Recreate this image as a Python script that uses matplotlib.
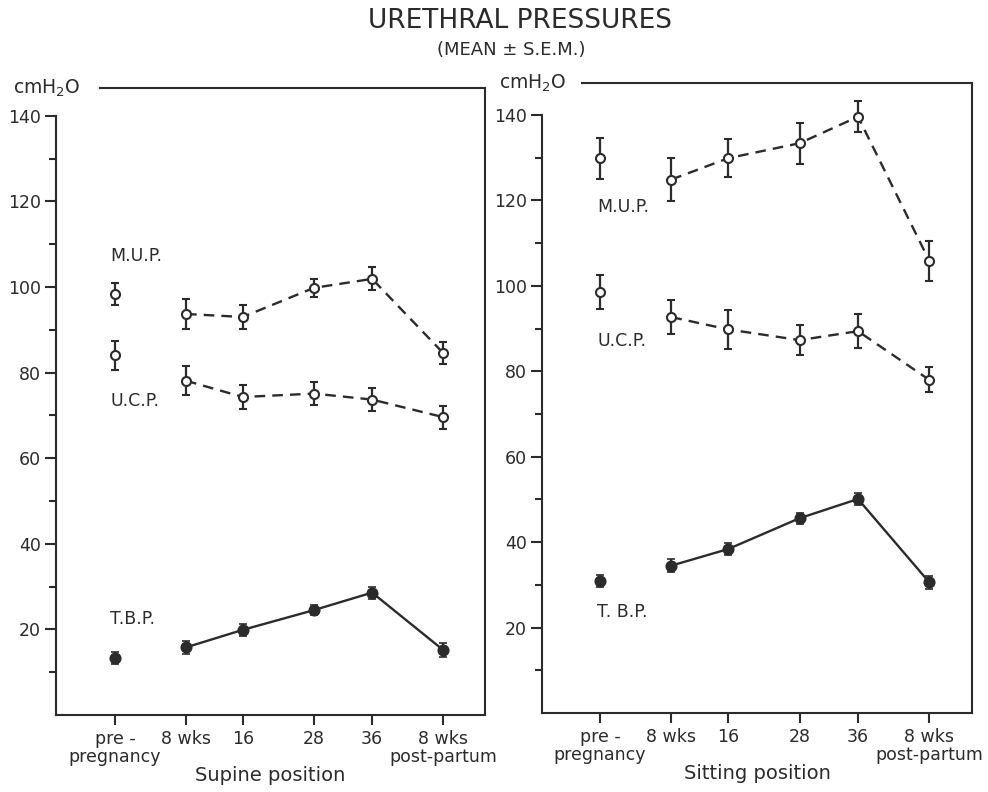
import matplotlib.pyplot as plt
from matplotlib.ticker import FixedLocator

# category axis (weeks of pregnancy), spacing as drawn in the original
x_labels = ["pre -\npregnancy", "8 wks", "16", "28", "36", "8 wks\npost-partum"]
x_pos = [0, 1, 1.8, 2.8, 3.62, 4.62]

# supine position, cmH2O (mean, s.e.m.)
supine_mup = [98.4, 93.7, 93.0, 99.8, 101.9, 84.6]
supine_mup_err = [2.6, 3.4, 2.8, 2.1, 2.7, 2.6]
supine_ucp = [84.0, 78.1, 74.3, 75.1, 73.7, 69.6]
supine_ucp_err = [3.3, 3.4, 2.8, 2.6, 2.7, 2.7]
supine_tbp = [13.4, 15.8, 19.9, 24.5, 28.6, 15.2]
supine_tbp_err = [1.4, 1.6, 1.35, 1.25, 1.4, 1.7]

# sitting position
sitting_mup = [129.9, 124.9, 129.9, 133.4, 139.6, 105.9]
sitting_mup_err = [4.8, 5.0, 4.4, 4.8, 3.6, 4.7]
sitting_ucp = [98.5, 92.7, 89.8, 87.3, 89.4, 78.0]
sitting_ucp_err = [4.0, 3.9, 4.5, 3.5, 3.9, 2.9]
sitting_tbp = [30.9, 34.5, 38.4, 45.6, 50.1, 30.6]
sitting_tbp_err = [1.3, 1.45, 1.5, 1.25, 1.35, 1.5]

INK = "#2b2b2b"
plt.rcParams["font.family"] = ["DejaVu Sans"]
plt.rcParams["text.color"] = INK


def draw_series(ax, y, err, filled):
    if filled:
        mk = dict(marker="o", ms=7.5, mfc=INK, mec=INK, mew=1.2)
        ls = "-"
    else:
        mk = dict(marker="o", ms=6.5, mfc="white", mec=INK, mew=1.5)
        ls = (0, (4.5, 3))
    eb = dict(ecolor=INK, elinewidth=1.6, capsize=3.2, capthick=1.6)
    # pre-pregnancy value stands on its own
    ax.errorbar(x_pos[:1], y[:1], yerr=err[:1], ls="none", **mk, **eb, zorder=3)
    ax.errorbar(x_pos[1:], y[1:], yerr=err[1:], ls=ls, color=INK, lw=1.7,
                **mk, **eb, zorder=3)


def setup_panel(ax, xlim, ylim, top_start, xlabel):
    ax.set_xlim(*xlim)
    ax.set_ylim(*ylim)
    for s in ax.spines.values():
        s.set_linewidth(1.5)
        s.set_color(INK)
    ax.spines["left"].set_bounds(0, 140)
    ax.spines["top"].set_bounds(top_start, xlim[1])
    ax.yaxis.set_major_locator(FixedLocator([20, 40, 60, 80, 100, 120, 140]))
    ax.yaxis.set_minor_locator(FixedLocator([10, 30, 50, 70, 90, 110, 130]))
    ax.set_xticks(x_pos)
    ax.set_xticklabels(x_labels)
    for t in ax.get_xticklabels():
        t.set_linespacing(1.0)
    ax.tick_params(axis="y", which="major", length=8, width=1.5, pad=3,
                   labelsize=12.5, colors=INK)
    ax.tick_params(axis="y", which="minor", length=5, width=1.5, colors=INK)
    ax.tick_params(axis="x", length=7, width=1.5, pad=4, labelsize=12.5,
                   colors=INK, top=False)
    ax.text(0.5, -0.096, xlabel, transform=ax.transAxes, ha="center",
            va="center", fontsize=14)
    ax.text(-0.10, 1.0, "cmH$_2$O", transform=ax.transAxes, ha="left",
            va="center", fontsize=13.5)


fig = plt.figure(figsize=(9.88, 7.92), dpi=100)

ax1 = fig.add_axes([56 / 988, 77 / 792, 429 / 988, 627 / 792])
setup_panel(ax1, (-0.831, 5.21), (0, 146.5), -0.21, "Supine position")
draw_series(ax1, supine_mup, supine_mup_err, False)
draw_series(ax1, supine_ucp, supine_ucp_err, False)
draw_series(ax1, supine_tbp, supine_tbp_err, True)
ax1.text(-0.07, 107.3, "M.U.P.", fontsize=12.5, va="center")
ax1.text(-0.07, 73.3, "U.C.P.", fontsize=12.5, va="center")
ax1.text(-0.07, 22.4, "T.B.P.", fontsize=12.5, va="center")

ax2 = fig.add_axes([542 / 988, 79 / 792, 430 / 988, 630 / 792])
setup_panel(ax2, (-0.815, 5.22), (0, 147.5), -0.25, "Sitting position")
draw_series(ax2, sitting_mup, sitting_mup_err, False)
draw_series(ax2, sitting_ucp, sitting_ucp_err, False)
draw_series(ax2, sitting_tbp, sitting_tbp_err, True)
ax2.text(-0.04, 118.5, "M.U.P.", fontsize=12.5, va="center")
ax2.text(-0.04, 87.1, "U.C.P.", fontsize=12.5, va="center")
ax2.text(-0.04, 23.7, "T. B.P.", fontsize=12.5, va="center")

fig.text(0.526, 1 - 21 / 792, "URETHRAL PRESSURES", ha="center", va="center",
         fontsize=19)
fig.text(0.517, 1 - 50 / 792, "(MEAN \u00b1 S.E.M.)", ha="center",
         va="center", fontsize=13)

fig.savefig("out.png", dpi=100)
